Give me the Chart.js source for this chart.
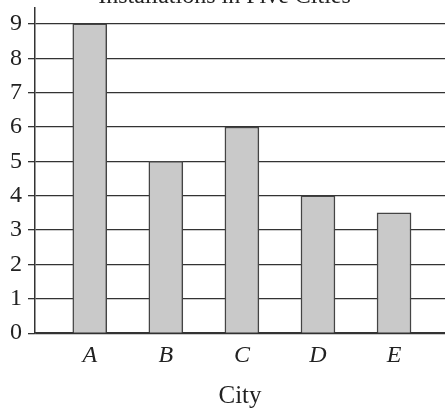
<!DOCTYPE html>
<html>
<head>
<meta charset="utf-8">
<script src="https://cdn.jsdelivr.net/npm/chart.js@4/dist/chart.umd.min.js"></script>
<style>
  html, body { margin: 0; padding: 0; background: #fff; overflow: hidden; }
  #wrap { position: absolute; left: 0; top: -21px; width: 445px; height: 429px; }
</style>
</head>
<body>
<div id="wrap"><canvas id="chart"></canvas></div>
<script>
const cities = ["A", "B", "C", "D", "E"];
const installations = [9, 5, 6, 4, 3.5];
const yTicks = [0, 1, 2, 3, 4, 5, 6, 7, 8, 9];

const serif = "'Liberation Serif', 'DejaVu Serif', serif";
const ink = "#333";

new Chart(document.getElementById("chart"), {
  type: "bar",
  data: {
    datasets: [
      {
        label: "Installations",
        data: installations.map((v, i) => ({ x: i, y: v })),
        backgroundColor: "#c9c9c9",
        borderColor: "#444",
        borderWidth: 1.5,
        borderSkipped: "bottom",
        barThickness: 34,
      },
    ],
  },
  options: {
    responsive: true,
    maintainAspectRatio: false,
    animation: false,
    layout: { padding: { left: 4, right: 0, top: 0, bottom: 0 } },
    plugins: {
      legend: { display: false },
      tooltip: { enabled: false },
      title: {
        display: true,
        text: "Installations in Five Cities",
        color: "#222",
        font: { family: serif, size: 24, weight: "normal" },
        padding: { top: 3, bottom: -3 },
      },
    },
    scales: {
      x: {
        type: "linear",
        offset: false,
        min: -0.72,
        max: 4.67,
        grid: { display: false, drawTicks: false },
        border: { display: true, color: ink, width: 1.5 },
        ticks: {
          stepSize: 1,
          includeBounds: false,
          autoSkip: false,
          maxRotation: 0,
          padding: 8,
          color: "#222",
          font: { family: serif, size: 24, style: "italic" },
          callback: (v) => (Number.isInteger(v) && cities[v] ? cities[v] : ""),
        },
        title: {
          display: true,
          text: "City",
          color: "#222",
          font: { family: serif, size: 25 },
          padding: { top: 3, bottom: -3 },
        },
      },
      y: {
        min: 0,
        max: 9.47,
        afterBuildTicks: (axis) => {
          axis.ticks = yTicks.map((v) => ({ value: v }));
        },
        grid: { color: ink, lineWidth: 1.3, tickLength: 7, drawOnChartArea: true },
        border: { display: true, color: ink, width: 1.5 },
        ticks: {
          padding: 6,
          color: "#222",
          font: { family: serif, size: 24 },
        },
      },
    },
  },
});
</script>
</body>
</html>
